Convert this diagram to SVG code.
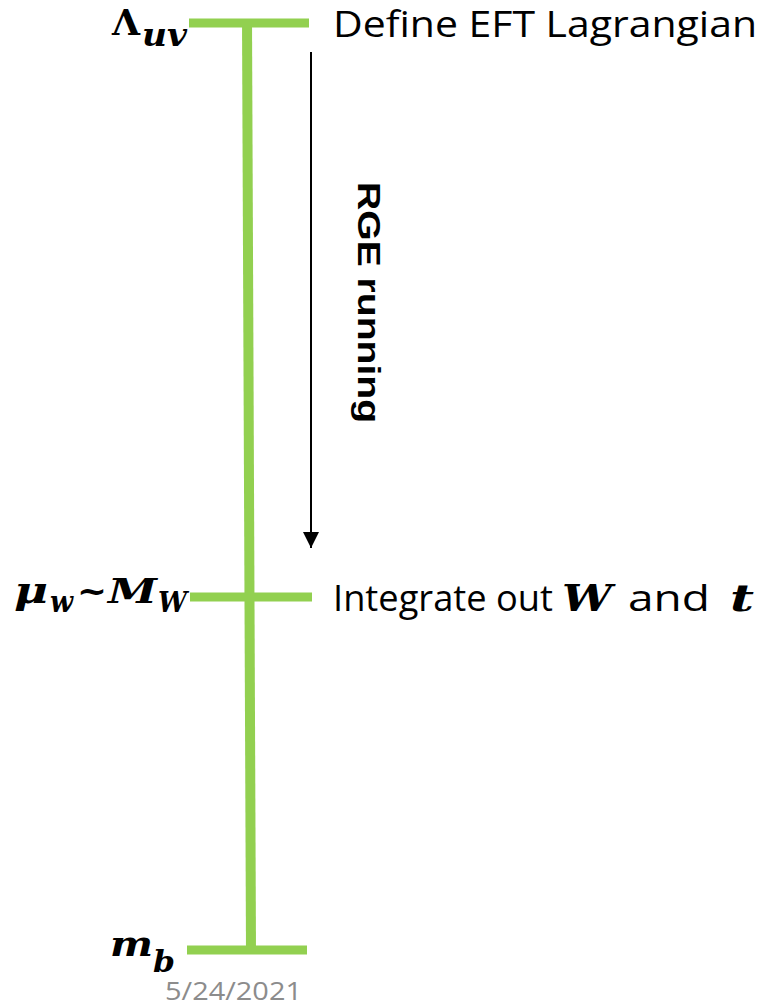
<svg xmlns="http://www.w3.org/2000/svg" width="766" height="1007" viewBox="0 0 766 1007">
<style>
.bar{stroke:#92d050;stroke-width:9;fill:none}
.stem{stroke:#92d050;stroke-width:10;fill:none}
.lbl{font-family:"Open Sans","Liberation Sans",sans-serif;font-size:36px;fill:#000}
.math{font-family:"DejaVu Serif","Liberation Serif",serif;font-weight:bold;font-style:italic;fill:#000}
.up{font-style:normal}
.rge{font-family:"Liberation Sans",Arial,sans-serif;font-weight:bold;font-size:32px;fill:#000}
.date{font-family:"Open Sans","Liberation Sans",sans-serif;font-size:26px;fill:#8c8c8c}
</style>
<defs>
<marker id="ah" markerWidth="16" markerHeight="16" refX="16" refY="8" orient="auto" markerUnits="userSpaceOnUse">
<path d="M0,0 L16,8 L0,16 Z" fill="#000"/>
</marker>
</defs>
<rect width="766" height="1007" fill="#fff"/>
<g id="scale-axis">
<line class="stem" x1="247" y1="19" x2="251" y2="950"/>
</g>
<g id="level-uv">
<line class="bar" x1="189" y1="23" x2="309" y2="23"/>
<text class="math up" x="112" y="35" font-size="36" textLength="28" lengthAdjust="spacingAndGlyphs">Λ</text>
<text class="math" x="142" y="46" font-size="32" textLength="45" lengthAdjust="spacingAndGlyphs">uv</text>
<text class="lbl" x="333" y="37" textLength="424" lengthAdjust="spacingAndGlyphs">Define EFT Lagrangian</text>
</g>
<g id="level-w">
<line class="bar" x1="190" y1="597" x2="312" y2="597"/>
<text class="math" x="14" y="603" font-size="38" textLength="34" lengthAdjust="spacingAndGlyphs">μ</text>
<text class="math" x="50" y="612" font-size="30" textLength="23" lengthAdjust="spacingAndGlyphs">w</text>
<text class="math up" x="77" y="603" font-size="36" textLength="30" lengthAdjust="spacingAndGlyphs">~</text>
<text class="math" x="108" y="603" font-size="34" textLength="49" lengthAdjust="spacingAndGlyphs">M</text>
<text class="math" x="158" y="612" font-size="28" textLength="29" lengthAdjust="spacingAndGlyphs">W</text>
<text class="lbl" x="333" y="611" textLength="220" lengthAdjust="spacingAndGlyphs">Integrate out</text>
<text class="math" x="562" y="611" font-size="37" textLength="50" lengthAdjust="spacingAndGlyphs">W</text>
<text class="lbl" x="628" y="611" font-size="38" textLength="82" lengthAdjust="spacingAndGlyphs">and</text>
<text class="math" x="730" y="611" font-size="37" textLength="24" lengthAdjust="spacingAndGlyphs">t</text>
</g>
<g id="level-b">
<line class="bar" x1="187" y1="950" x2="307" y2="950"/>
<text class="math" x="110" y="956" font-size="36" textLength="43" lengthAdjust="spacingAndGlyphs">m</text>
<text class="math" x="153" y="972" font-size="30" textLength="22" lengthAdjust="spacingAndGlyphs">b</text>
</g>
<g id="connectors">
<line x1="311" y1="52" x2="311" y2="548" stroke="#000" stroke-width="2" marker-end="url(#ah)"/>
<text class="rge" transform="translate(358,182) rotate(90)" textLength="241" lengthAdjust="spacingAndGlyphs">RGE running</text>
</g>
<text class="date" x="165" y="1000" textLength="137" lengthAdjust="spacingAndGlyphs">5/24/2021</text>
</svg>
